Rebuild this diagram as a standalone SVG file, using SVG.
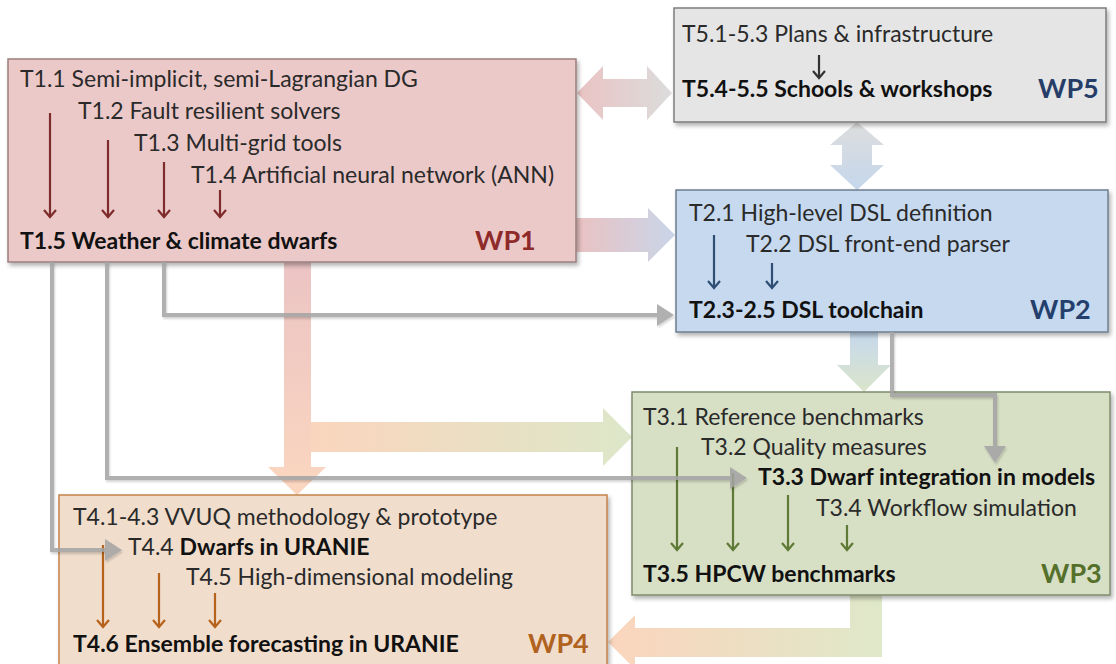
<svg xmlns="http://www.w3.org/2000/svg" width="1116" height="664" viewBox="0 0 1116 664">
  <style>
    .box { stroke-width: 1.5; filter: url(#shadow); }
    .t { font-family: Lato, "Open Sans", sans-serif; font-size: 23px; fill: #2a2a2a; }
    .b { font-weight: 700; fill: #111; }
    .wp { font-family: Lato, "Open Sans", sans-serif; font-size: 27px; font-weight: 700; }
    .sub { fill: none; stroke-width: 2.2; }
    .gray { fill: none; stroke: #a3a3a3; stroke-width: 4; marker-end: url(#grayHead); }
  </style>
  <defs>
    <filter id="shadow" x="-5%" y="-5%" width="110%" height="115%">
      <feDropShadow dx="2" dy="3" stdDeviation="2" flood-color="#000" flood-opacity="0.3"/>
    </filter>
    <filter id="lineShadow" x="-5%" y="-5%" width="110%" height="110%">
      <feDropShadow dx="1" dy="2" stdDeviation="1.2" flood-color="#000" flood-opacity="0.2"/>
    </filter>
    <marker id="grayHead" markerUnits="userSpaceOnUse" markerWidth="18" markerHeight="22" refX="0" refY="11" orient="auto">
      <path d="M0,0 L17,11 L0,22 z" fill="#a3a3a3"/>
    </marker>
    <marker id="headRed" markerUnits="userSpaceOnUse" markerWidth="14" markerHeight="14" refX="7" refY="12" viewBox="0 0 14 14">
      <path d="M1,5 L7,12 L13,5" fill="none" stroke="#7d2b2b" stroke-width="2.2"/>
    </marker>
    <marker id="headGray" markerUnits="userSpaceOnUse" markerWidth="14" markerHeight="14" refX="7" refY="12" viewBox="0 0 14 14">
      <path d="M1,5 L7,12 L13,5" fill="none" stroke="#333" stroke-width="2.2"/>
    </marker>
    <marker id="headBlue" markerUnits="userSpaceOnUse" markerWidth="14" markerHeight="14" refX="7" refY="12" viewBox="0 0 14 14">
      <path d="M1,5 L7,12 L13,5" fill="none" stroke="#2f4e75" stroke-width="2.2"/>
    </marker>
    <marker id="headGreen" markerUnits="userSpaceOnUse" markerWidth="14" markerHeight="14" refX="7" refY="12" viewBox="0 0 14 14">
      <path d="M1,5 L7,12 L13,5" fill="none" stroke="#5e7a36" stroke-width="2.2"/>
    </marker>
    <marker id="headOrange" markerUnits="userSpaceOnUse" markerWidth="14" markerHeight="14" refX="7" refY="12" viewBox="0 0 14 14">
      <path d="M1,5 L7,12 L13,5" fill="none" stroke="#b5621c" stroke-width="2.2"/>
    </marker>
    <linearGradient id="gPinkGray" gradientUnits="userSpaceOnUse" x1="577" y1="0" x2="672" y2="0">
      <stop offset="0" stop-color="#eac3c3"/><stop offset="1" stop-color="#dcdcdc"/>
    </linearGradient>
    <linearGradient id="gGrayBlue" gradientUnits="userSpaceOnUse" x1="0" y1="122" x2="0" y2="190">
      <stop offset="0" stop-color="#dddddd"/><stop offset="1" stop-color="#c5d7ec"/>
    </linearGradient>
    <linearGradient id="gPinkBlue" gradientUnits="userSpaceOnUse" x1="576" y1="0" x2="674" y2="0">
      <stop offset="0" stop-color="#eac2c2"/><stop offset="1" stop-color="#c9d5e8"/>
    </linearGradient>
    <linearGradient id="gBlueGreen" gradientUnits="userSpaceOnUse" x1="0" y1="332" x2="0" y2="392">
      <stop offset="0" stop-color="#c6d8ec"/><stop offset="1" stop-color="#dbe5cb"/>
    </linearGradient>
    <linearGradient id="gPinkPeach" gradientUnits="userSpaceOnUse" x1="0" y1="262" x2="0" y2="495">
      <stop offset="0" stop-color="#ebc4c4"/><stop offset="1" stop-color="#fbd6bf"/>
    </linearGradient>
    <linearGradient id="gPeachGreen" gradientUnits="userSpaceOnUse" x1="311" y1="0" x2="632" y2="0">
      <stop offset="0" stop-color="#fad5bd"/><stop offset="1" stop-color="#dde7c9"/>
    </linearGradient>
    <linearGradient id="gGreenPeach" gradientUnits="userSpaceOnUse" x1="882" y1="0" x2="608" y2="0">
      <stop offset="0" stop-color="#dfe8c9"/><stop offset="1" stop-color="#fbd5bd"/>
    </linearGradient>
  </defs>

  <rect width="1116" height="664" fill="#fff"/>

  <!-- broad work-package links, behind the boxes -->
  <g id="flows">
    <polygon fill="url(#gPinkGray)" points="577,93 603,66 603,79 647,79 647,66 672,93 647,120 647,107 603,107 603,120"/>
    <polygon fill="url(#gGrayBlue)" points="857,122 884,145 872,145 872,165 884,165 857,190 830,165 842,165 842,145 830,145"/>
    <polygon fill="url(#gPinkBlue)" points="576,218 648,218 648,208 675,235 648,262 648,252 576,252"/>
    <polygon fill="url(#gBlueGreen)" points="850,332 878,332 878,365 891,365 864,392 837,365 850,365"/>
    <polygon fill="url(#gPinkPeach)" points="284,262 311,262 311,467 326,467 297,495 268,467 284,467"/>
    <polygon fill="url(#gPeachGreen)" points="311,422 603,422 603,408 632,437 603,466 603,452 311,452"/>
    <polygon fill="url(#gGreenPeach)" points="850,595 882,595 882,657 635,657 635,669 608,642 635,615 635,628 850,628"/>
  </g>

  <!-- WP1 -->
  <g id="wp1">
    <rect class="box" x="8" y="59" width="568" height="203" fill="#ecc9c9" stroke="#9a7f7f"/>
    <text class="t" x="20" y="87">T1.1 Semi-implicit, semi-Lagrangian DG</text>
    <text class="t" x="78" y="119">T1.2 Fault resilient solvers</text>
    <text class="t" x="134" y="151">T1.3 Multi-grid tools</text>
    <text class="t" x="191" y="183">T1.4 Artificial neural network (ANN)</text>
    <text class="t b" x="20" y="249">T1.5 Weather &amp; climate dwarfs</text>
    <text class="wp" x="475" y="250" fill="#8e2a2a">WP1</text>
    <g class="sub" stroke="#7d2b2b">
      <line x1="50" y1="113" x2="50" y2="217" marker-end="url(#headRed)"/>
      <line x1="108" y1="140" x2="108" y2="217" marker-end="url(#headRed)"/>
      <line x1="164" y1="162" x2="164" y2="217" marker-end="url(#headRed)"/>
      <line x1="220" y1="190" x2="220" y2="217" marker-end="url(#headRed)"/>
    </g>
  </g>

  <!-- WP5 -->
  <g id="wp5">
    <rect class="box" x="674" y="8" width="432" height="114" fill="#e5e5e5" stroke="#7d7d7d"/>
    <text class="t" x="682" y="42">T5.1-5.3 Plans &amp; infrastructure</text>
    <line class="sub" stroke="#333" x1="819" y1="55" x2="819" y2="78" marker-end="url(#headGray)"/>
    <text class="t b" x="682" y="97">T5.4-5.5 Schools &amp; workshops</text>
    <text class="wp" x="1038" y="98" fill="#263d68">WP5</text>
  </g>

  <!-- WP2 -->
  <g id="wp2">
    <rect class="box" x="676" y="190" width="432" height="142" fill="#c6d9ef" stroke="#6e7e90"/>
    <text class="t" x="689" y="221">T2.1 High-level DSL definition</text>
    <text class="t" x="746" y="252">T2.2 DSL front-end parser</text>
    <g class="sub" stroke="#2f4e75">
      <line x1="714" y1="235" x2="714" y2="288" marker-end="url(#headBlue)"/>
      <line x1="772" y1="263" x2="772" y2="288" marker-end="url(#headBlue)"/>
    </g>
    <text class="t b" x="689" y="318">T2.3-2.5 DSL toolchain</text>
    <text class="wp" x="1030" y="319" fill="#243f6c">WP2</text>
  </g>

  <!-- WP3 -->
  <g id="wp3">
    <rect class="box" x="632" y="392" width="478" height="203" fill="#d7dfc5" stroke="#7f8c6e"/>
    <text class="t" x="643" y="425">T3.1 Reference benchmarks</text>
    <text class="t" x="701" y="455">T3.2 Quality measures</text>
    <text class="t b" x="758" y="485">T3.3 Dwarf integration in models</text>
    <text class="t" x="816" y="516">T3.4 Workflow simulation</text>
    <g class="sub" stroke="#5e7a36">
      <line x1="677" y1="447" x2="677" y2="550" marker-end="url(#headGreen)"/>
      <line x1="733" y1="473" x2="733" y2="550" marker-end="url(#headGreen)"/>
      <line x1="788" y1="495" x2="788" y2="550" marker-end="url(#headGreen)"/>
      <line x1="847" y1="525" x2="847" y2="550" marker-end="url(#headGreen)"/>
    </g>
    <text class="t b" x="643" y="582">T3.5 HPCW benchmarks</text>
    <text class="wp" x="1041" y="583" fill="#55702a">WP3</text>
  </g>

  <!-- WP4 -->
  <g id="wp4">
    <rect class="box" x="59" y="495" width="548" height="185" fill="#f0ddcc" stroke="#c5824a"/>
    <text class="t" x="73" y="525">T4.1-4.3 VVUQ methodology &amp; prototype</text>
    <text class="t" x="128" y="555">T4.4 <tspan class="b">Dwarfs in URANIE</tspan></text>
    <text class="t" x="186" y="585">T4.5 High-dimensional modeling</text>
    <g class="sub" stroke="#b5621c">
      <line x1="103" y1="545" x2="103" y2="627" marker-end="url(#headOrange)"/>
      <line x1="159" y1="573" x2="159" y2="627" marker-end="url(#headOrange)"/>
      <line x1="215" y1="593" x2="215" y2="627" marker-end="url(#headOrange)"/>
    </g>
    <text class="t b" x="73" y="652">T4.6 Ensemble forecasting in URANIE</text>
    <text class="wp" x="528" y="653" fill="#b0621f">WP4</text>
  </g>

  <!-- thin dependency lines, drawn over the boxes -->
  <g id="connectors" opacity="0.85" filter="url(#lineShadow)">
    <path class="gray" d="M52,262 V550 H105"/>
    <path class="gray" d="M107,262 V478 H730"/>
    <path class="gray" d="M164,262 V315 H657"/>
    <path class="gray" d="M892,332 V395 H995 V446"/>
  </g>
</svg>
